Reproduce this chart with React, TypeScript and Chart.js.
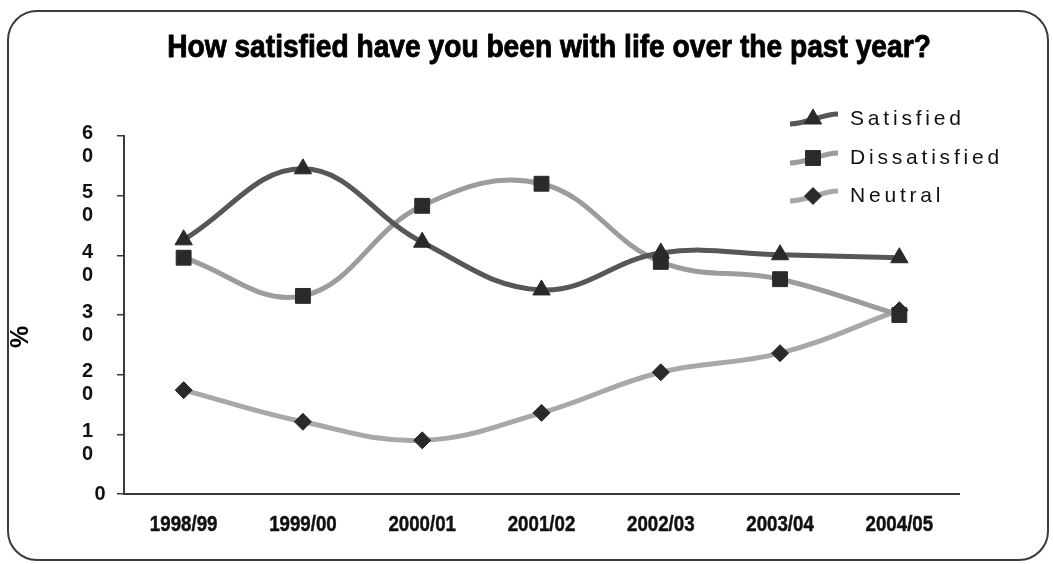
import { useEffect, useRef } from 'react';
import { Chart, registerables } from 'chart.js';

Chart.register(...registerables);

// Survey years on the x axis
const years = ['1998/99', '1999/00', '2000/01', '2001/02', '2002/03', '2003/04', '2004/05'];

// Percentages per response group
const satisfied = [42.6, 54.5, 42.2, 34.2, 40.4, 40.1, 39.6];
const dissatisfied = [39.6, 33.2, 48.3, 52.0, 38.9, 36.0, 30.0];
const neutral = [17.4, 12.1, 9.0, 13.6, 20.4, 23.6, 30.8];

const seriesNames = ['Satisfied', 'Dissatisfied', 'Neutral'];
const seriesColors = ['#575757', '#9c9c9c', '#a8a8a8'];
const seriesMarkers = ['triangle', 'rect', 'rectRot'];
const markerRadius = [10, 10.5, 8.5];

// Y axis range and step
const yMin = 0;
const yMax = 60;
const yStep = 10;

const titleText = 'How satisfied have you been with life over the past year?';
const yTitle = '%';

const FONT = '"Liberation Sans", Arial, sans-serif';
const MARKER_FILL = '#2a2a2a';

function drawMarker(ctx: CanvasRenderingContext2D, style: string, x: number, y: number, r: number) {
  ctx.beginPath();
  if (style === 'triangle') {
    ctx.moveTo(x, y - r);
    ctx.lineTo(x + r * Math.sin((2 * Math.PI) / 3), y - r * Math.cos((2 * Math.PI) / 3));
    ctx.lineTo(x + r * Math.sin((4 * Math.PI) / 3), y - r * Math.cos((4 * Math.PI) / 3));
    ctx.closePath();
  } else if (style === 'rect') {
    const s = Math.SQRT1_2 * r;
    ctx.rect(x - s, y - s, 2 * s, 2 * s);
  } else {
    ctx.moveTo(x, y - r);
    ctx.lineTo(x + r, y);
    ctx.lineTo(x, y + r);
    ctx.lineTo(x - r, y);
    ctx.closePath();
  }
  ctx.fillStyle = MARKER_FILL;
  ctx.strokeStyle = MARKER_FILL;
  ctx.lineWidth = 1;
  ctx.fill();
  ctx.stroke();
}

// Condensed heavy text: a bold face squeezed horizontally, with a thin outline
function narrowText(
  ctx: CanvasRenderingContext2D,
  text: string,
  x: number,
  y: number,
  size: number,
  squeeze: number,
  weight: number
) {
  ctx.save();
  ctx.translate(x, y);
  ctx.scale(squeeze, 1);
  ctx.font = `bold ${size}px ${FONT}`;
  ctx.textAlign = 'center';
  ctx.fillText(text, 0, 0);
  if (weight > 0) {
    ctx.strokeStyle = ctx.fillStyle as string;
    ctx.lineWidth = weight;
    ctx.lineJoin = 'round';
    ctx.strokeText(text, 0, 0);
  }
  ctx.restore();
}

// Chart title, axis labels and the legend block
const decorPlugin = {
  id: 'decor',
  afterDraw(chart: any) {
    const ctx: CanvasRenderingContext2D = chart.ctx;
    const area = chart.chartArea;
    ctx.save();

    // title
    ctx.fillStyle = '#000';
    ctx.textBaseline = 'alphabetic';
    narrowText(ctx, titleText, 549, 57, 32, 0.88, 0.9);

    // x tick labels
    const xScale = chart.scales.x;
    ctx.fillStyle = '#111';
    ctx.textBaseline = 'middle';
    (chart.data.labels as string[]).forEach((lab, i) => {
      narrowText(ctx, lab, xScale.getPixelForValue(i), area.bottom + 31, 22, 0.85, 0.5);
    });

    // y axis title
    ctx.save();
    ctx.translate(21, (area.top + area.bottom) / 2 + 22);
    ctx.rotate(-Math.PI / 2);
    ctx.font = `bold 25px ${FONT}`;
    ctx.fillStyle = '#000';
    ctx.textAlign = 'center';
    ctx.textBaseline = 'middle';
    ctx.fillText(yTitle, 0, 0);
    ctx.restore();

    // y tick labels: digits stacked one above the other
    const yScale = chart.scales.y;
    ctx.font = `bold 20px ${FONT}`;
    ctx.fillStyle = '#111';
    ctx.textBaseline = 'middle';
    for (const t of yScale.ticks) {
      const py = yScale.getPixelForValue(t.value);
      const lines = String(t.value).split('');
      if (lines.length === 1) {
        ctx.textAlign = 'center';
        ctx.fillText(lines[0], area.left - 24, py);
      } else {
        ctx.textAlign = 'right';
        lines.forEach((s, i) => ctx.fillText(s, area.left - 31, py - 3 + i * 23));
      }
    }

    // legend
    const rows = [119, 158, 196];
    chart.data.datasets.forEach((ds: any, i: number) => {
      const y = rows[i];
      ctx.beginPath();
      ctx.moveTo(790, y + 5);
      ctx.bezierCurveTo(806, y + 5, 822, y - 5, 838, y - 5);
      ctx.strokeStyle = ds.borderColor;
      ctx.lineWidth = 5;
      ctx.stroke();
      drawMarker(ctx, seriesMarkers[i], 813, y, markerRadius[i]);
      ctx.fillStyle = '#111';
      ctx.font = `21px ${FONT}`;
      (ctx as any).letterSpacing = '3.8px';
      ctx.textAlign = 'left';
      ctx.textBaseline = 'middle';
      ctx.fillText(ds.label, 850, y);
      (ctx as any).letterSpacing = '0px';
    });

    ctx.restore();
  },
};

export default function App() {
  const ref = useRef<HTMLCanvasElement>(null);

  useEffect(() => {
    if (!ref.current) return;
    const values = [satisfied, dissatisfied, neutral];
    const chart = new Chart(ref.current, {
      type: 'line',
      data: {
        labels: years,
        datasets: values.map((d, i) => ({
          label: seriesNames[i],
          data: d,
          borderColor: seriesColors[i],
          borderWidth: 5,
          tension: 0.4,
          fill: false,
          pointStyle: seriesMarkers[i] as any,
          pointRadius: markerRadius[i],
          pointBackgroundColor: MARKER_FILL,
          pointBorderColor: MARKER_FILL,
          pointBorderWidth: 1,
        })),
      },
      options: {
        animation: false,
        responsive: false,
        layout: { padding: { left: 40, top: 136, right: 94, bottom: 20 } },
        plugins: {
          legend: { display: false },
          tooltip: { enabled: false },
          title: { display: false },
        },
        scales: {
          x: {
            type: 'category',
            offset: true,
            grid: { display: true, drawOnChartArea: false, drawTicks: false, offset: true },
            border: { display: true, color: '#3a3a3a', width: 2 },
            ticks: { display: false, autoSkip: false },
            afterFit: (s: any) => {
              s.height = 50;
            },
          },
          y: {
            min: yMin,
            max: yMax,
            ticks: { stepSize: yStep, display: false },
            grid: { drawOnChartArea: false, drawTicks: true, tickLength: 7, color: '#3a3a3a', lineWidth: 1.5 },
            border: { display: true, color: '#3a3a3a', width: 2 },
            afterFit: (s: any) => {
              s.width = 84;
            },
          },
        },
      },
      plugins: [decorPlugin],
    });
    return () => chart.destroy();
  }, []);

  return (
    <div style={{ position: 'fixed', left: 0, top: 0, width: 1053, height: 564, background: '#fff' }}>
      <div
        style={{
          position: 'absolute',
          left: 7,
          top: 10,
          width: 1042,
          height: 551,
          boxSizing: 'border-box',
          border: '2.5px solid #3c3c3c',
          borderRadius: 30,
        }}
      />
      <canvas ref={ref} width={1053} height={564} style={{ position: 'absolute', left: 0, top: 0 }} />
    </div>
  );
}
